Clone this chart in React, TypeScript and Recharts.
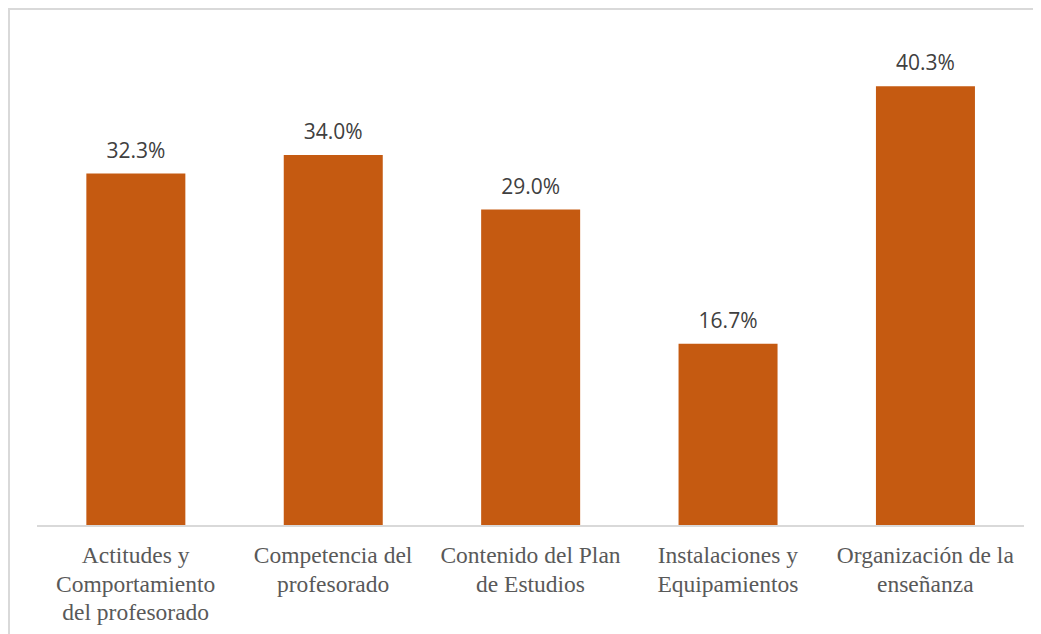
import React from 'react';
import { BarChart, Bar, XAxis, YAxis, LabelList } from 'recharts';

const categories = [
  'Actitudes y\nComportamiento\ndel profesorado',
  'Competencia del\nprofesorado',
  'Contenido del Plan\nde Estudios',
  'Instalaciones y\nEquipamientos',
  'Organización de la\nenseñanza',
];
const values = [32.3, 34.0, 29.0, 16.7, 40.3];

const data = categories.map((name, i) => ({ name, value: values[i] }));

const CategoryTick = (props: any) => {
  const { x, y, payload } = props;
  const lines = String(payload.value).split('\n');
  return (
    <text
      x={x}
      y={y}
      textAnchor="middle"
      fill="#595959"
      style={{ fontFamily: '"Liberation Serif", "Times New Roman", serif', fontSize: 23.5 }}
    >
      {lines.map((line, i) => (
        <tspan key={i} x={x} dy={i === 0 ? 31 : 28.5}>
          {line}
        </tspan>
      ))}
    </text>
  );
};

const App: React.FC = () => {
  return (
    <div
      style={{
        width: 1033,
        height: 626,
        borderTop: '2px solid #d9d9d9',
        borderLeft: '2px solid #d9d9d9',
        boxSizing: 'border-box',
        background: '#fff',
      }}
    >
      <BarChart
        width={1031}
        height={624}
        data={data}
        margin={{ top: 25, right: 17, left: 27, bottom: 0 }}
        barCategoryGap="25%"
      >
        <XAxis
          dataKey="name"
          interval={0}
          tickLine={false}
          axisLine={{ stroke: '#d9d9d9', strokeWidth: 2 }}
          height={108}
          tick={<CategoryTick />}
          tickMargin={0}
        />
        <YAxis hide domain={[0, 45]} />
        <Bar dataKey="value" fill="#C55A11" isAnimationActive={false}>
          <LabelList
            dataKey="value"
            position="top"
            offset={16}
            formatter={(v: any) => `${Number(v).toFixed(1)}%`}
            fill="#404040"
            fontFamily="'Open Sans', sans-serif"
            fontSize={21}
          />
        </Bar>
      </BarChart>
    </div>
  );
};

export default App;
